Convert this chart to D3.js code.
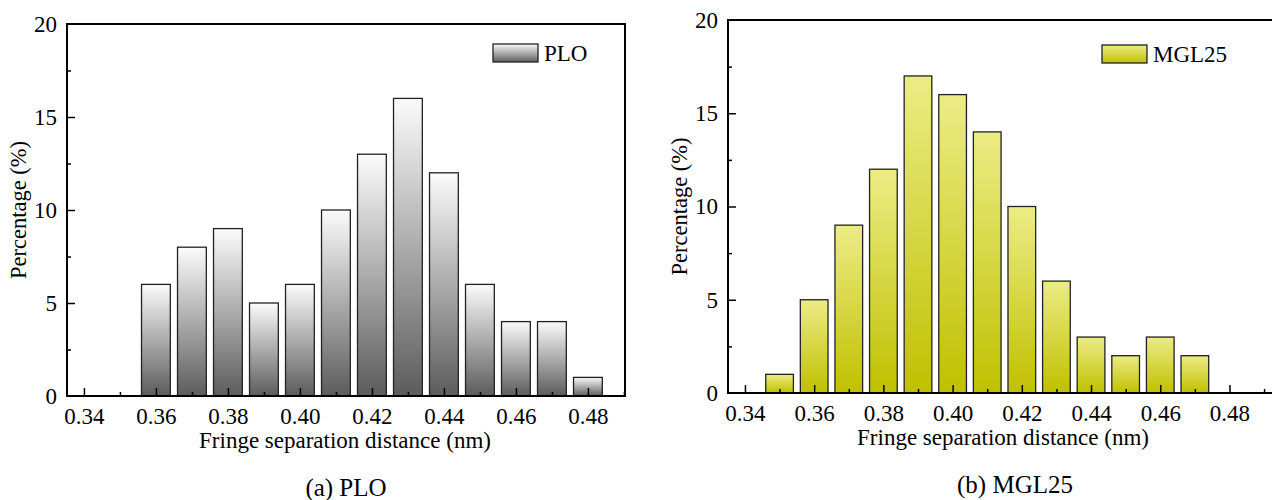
<!DOCTYPE html>
<html>
<head>
<meta charset="utf-8">
<script src="https://cdn.jsdelivr.net/npm/d3@7"></script>
<style>
  body { margin: 0; background: #fff; }
  svg { display: block; font-family: "Liberation Serif", "Times New Roman", serif; }
  .tick line { stroke: #000; stroke-width: 1.5px; }
  .tick text { font-family: "Liberation Serif", serif; font-size: 23px; fill: #000; }
</style>
</head>
<body>
<div id="chart"></div>
<script>
// fringe separation bins (nm)
const ploBins = [0.36, 0.37, 0.38, 0.39, 0.40, 0.41, 0.42, 0.43, 0.44, 0.45, 0.46, 0.47, 0.48];
const ploValues = [6, 8, 9, 5, 6, 10, 13, 16, 12, 6, 4, 4, 1];
const mglBins = [0.35, 0.36, 0.37, 0.38, 0.39, 0.40, 0.41, 0.42, 0.43, 0.44, 0.45, 0.46, 0.47];
const mglValues = [1, 5, 9, 12, 17, 16, 14, 10, 6, 3, 2, 3, 2];
const xTicks = [0.34, 0.36, 0.38, 0.40, 0.42, 0.44, 0.46, 0.48];
const yTicks = [0, 5, 10, 15, 20];

const W = 1272, H = 500;
const svg = d3.select('#chart').append('svg').attr('width', W).attr('height', H);
const defs = svg.append('defs');

function grad(id, top, bottom) {
  const g = defs.append('linearGradient').attr('id', id)
    .attr('x1', 0).attr('y1', 0).attr('x2', 0).attr('y2', 1);
  g.append('stop').attr('offset', '0%').attr('stop-color', top);
  g.append('stop').attr('offset', '100%').attr('stop-color', bottom);
}
grad('gGray', '#fbfbfb', '#5c5c5c');
grad('gYellow', '#ecec86', '#c0c000');

const serif = '"Liberation Serif", "Times New Roman", serif';
const styleAxis = a => a.attr('font-family', serif).attr('font-size', 23);

function panel(opt) {
  const { left, top, right, bottom, xDom, bins, values, fill, name, legX, legY, caption, capX, titleX, boxRight } = opt;
  const x = d3.scaleLinear().domain(xDom).range([left, right]);
  const y = d3.scaleLinear().domain([0, 20]).range([bottom, top]);
  const g = svg.append('g');

  // bars, width 0.008 nm
  g.selectAll('rect.bar').data(bins).join('rect')
    .attr('class', 'bar')
    .attr('x', d => x(d - 0.004))
    .attr('width', d => x(d + 0.004) - x(d - 0.004))
    .attr('y', (d, i) => y(values[i]))
    .attr('height', (d, i) => y(0) - y(values[i]))
    .attr('fill', `url(#${fill})`)
    .attr('stroke', '#222')
    .attr('stroke-width', 1.3);

  // x axis major + minor ticks (inward)
  const minorX = d3.range(0.34, 0.5, 0.01).map(v => +v.toFixed(2)).filter(v => !xTicks.includes(v) && v < xDom[1]);
  g.append('g').attr('transform', `translate(0,${bottom})`)
    .call(d3.axisBottom(x).tickValues(xTicks).tickSizeInner(-8).tickSizeOuter(0).tickPadding(12).tickFormat(d3.format('.2f')))
    .call(a => a.select('.domain').remove())
    .call(styleAxis);
  g.append('g').attr('transform', `translate(0,${bottom})`)
    .call(d3.axisBottom(x).tickValues(minorX).tickSizeInner(-4).tickSizeOuter(0).tickFormat(''))
    .call(a => a.select('.domain').remove());

  // y axis
  const minorY = [2.5, 7.5, 12.5, 17.5];
  g.append('g').attr('transform', `translate(${left},0)`)
    .call(d3.axisLeft(y).tickValues(yTicks).tickSizeInner(-8).tickSizeOuter(0).tickPadding(10))
    .call(a => a.select('.domain').remove())
    .call(a => a.selectAll('.tick').filter(d => d === 0 || d === 20).select('line').remove())
    .call(styleAxis);
  g.append('g').attr('transform', `translate(${left},0)`)
    .call(d3.axisLeft(y).tickValues(minorY).tickSizeInner(-4).tickSizeOuter(0).tickFormat(''))
    .call(a => a.select('.domain').remove());

  // frame
  const frame = boxRight
    ? `M${left},${top}H${right}V${bottom}H${left}Z`
    : `M${right},${top}H${left}V${bottom}H${right}`;
  g.append('path').attr('d', frame).attr('fill', 'none').attr('stroke', '#000').attr('stroke-width', 2);

  // legend
  g.append('rect').attr('x', legX).attr('y', legY).attr('width', 45).attr('height', 18)
    .attr('fill', `url(#${fill})`).attr('stroke', '#222').attr('stroke-width', 1.3);
  g.append('text').attr('x', legX + 51).attr('y', legY + 17).attr('font-size', 23).text(name);

  // titles
  g.append('text').attr('x', titleX).attr('y', bottom + 52)
    .attr('text-anchor', 'middle').attr('font-size', 23).text('Fringe separation distance (nm)');
  g.append('text').attr('transform', `translate(${left - 41},${(top + bottom) / 2}) rotate(-90)`)
    .attr('text-anchor', 'middle').attr('font-size', 22.5).text('Percentage (%)');
  g.append('text').attr('x', capX).attr('y', bottom + 100)
    .attr('text-anchor', 'middle').attr('font-size', 25).text(caption);
}

panel({ left: 67, top: 24, right: 625, bottom: 396, xDom: [0.3353, 0.4903],
  bins: ploBins, values: ploValues, fill: 'gGray', name: 'PLO',
  legX: 493, legY: 44, caption: '(a) PLO', capX: 346, titleX: 345, boxRight: true });

panel({ left: 728, top: 20, right: 1280, bottom: 393, xDom: [0.3351, 0.4946],
  bins: mglBins, values: mglValues, fill: 'gYellow', name: 'MGL25',
  legX: 1102, legY: 45, caption: '(b) MGL25', capX: 1015, titleX: 1003, boxRight: false });
</script>
</body>
</html>
